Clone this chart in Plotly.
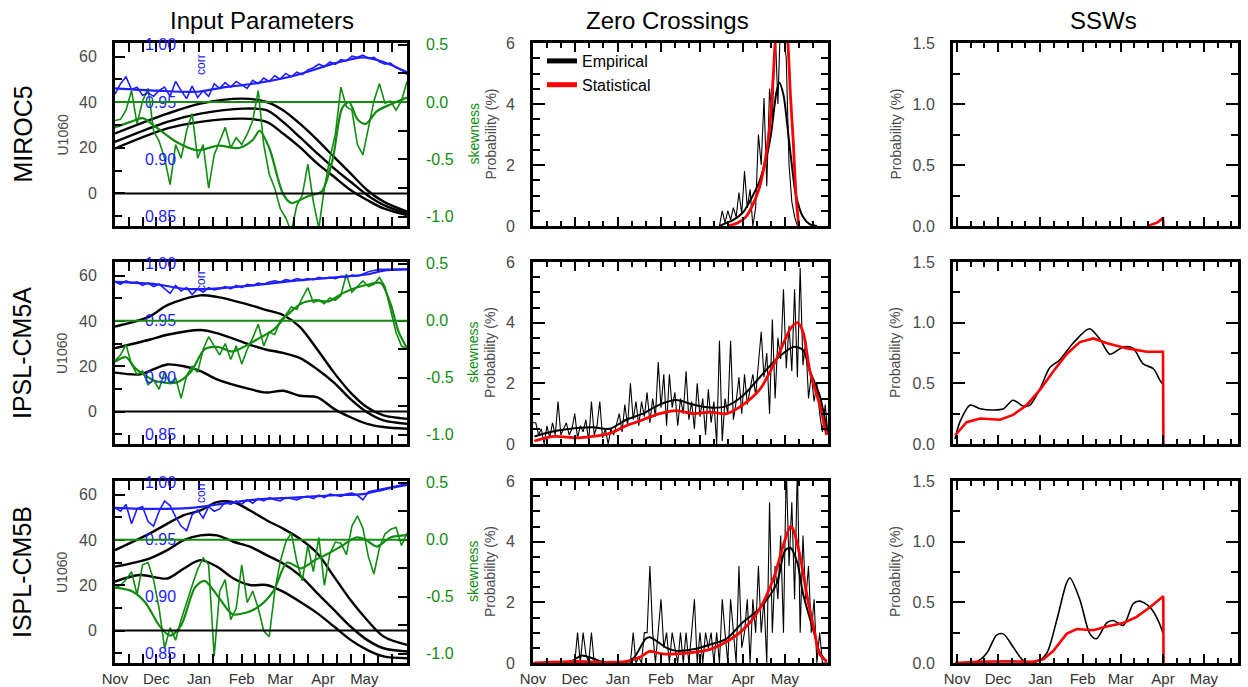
import plotly.graph_objects as go

W, H = 1248, 687
FONT = "Liberation Sans, Arial, Helvetica, sans-serif"
GREEN = "#118c11"
BLUE = "#1e1eff"
RED = "#ff0000"
GRAY = "#4a4a4a"

# ---------------- labels / ticks ----------------
MODELS = ["MIROC5", "IPSL-CM5A", "ISPL-CM5B"]
COLUMN_TITLES = ["Input Parameters", "Zero Crossings", "SSWs"]
MONTHS = ["Nov", "Dec", "Jan", "Feb", "Mar", "Apr", "May"]
MONTH_DAYS = [0, 30, 61, 92, 120, 151, 181]          # days since 1 Nov
MINOR_DAYS = [10, 20, 40, 50, 71, 81, 102, 112, 130, 140, 161, 171, 191, 201]
U_TICKS = [0, 20, 40, 60]
U_MINOR = [-10, 10, 30, 50]
SKEW_TICKS = [-1.0, -0.5, 0.0, 0.5]
SKEW_LABELS = ["-1.0", "-0.5", "0.0", "0.5"]
SKEW_MINOR = [-0.75, -0.25, 0.25]
CORR_TICKS = [0.85, 0.90, 0.95, 1.00]
CORR_LABELS = ["0.85", "0.90", "0.95", "1.00"]
ZC_TICKS = [0, 2, 4, 6]
SSW_TICKS = [0.0, 0.5, 1.0, 1.5]
SSW_LABELS = ["0.0", "0.5", "1.0", "1.5"]

DAYS4 = list(range(0, 213, 4))
DAYS2 = list(range(0, 213, 2))

# ---------------- Input parameters: U1060 (three curves per model) ----------------
u_days_miroc = [0, 38, 62, 93, 110, 122, 134, 147, 159, 171, 183, 195, 212]
u_miroc_upper = [26.3, 35, 39.4, 41.6, 40.1, 36.5, 30.7, 23.4, 16, 8.8, 1.5, -3.6, -8]
u_miroc_mid = [22.6, 31.4, 35, 37.2, 36.5, 31.4, 24.8, 17.5, 11, 5.1, -0.7, -5.1, -8.8]
u_miroc_lower = [19.7, 28.5, 31.4, 32.8, 31.4, 26.3, 20.4, 13.1, 7.3, 1.5, -2.9, -6.6, -9.5]

u_days_ipsla = [0, 25, 38, 62, 74, 98, 110, 122, 134, 147, 159, 171, 183, 195, 212]
u_ipsla_upper = [37.5, 41.9, 47, 51.3, 50.6, 47, 44.8, 42.6, 37.5, 27.3, 17.2, 8.4, 1.9, -1.7, -3.2]
u_ipsla_mid = [28, 31.7, 33.9, 36, 34.6, 29.5, 27.3, 25.9, 23.7, 18.6, 12.8, 5.5, -0.3, -3.9, -5.4]
u_days_ipsla_low = [0, 18, 25, 38, 50, 62, 74, 98, 110, 122, 134, 147, 159, 171, 183, 195, 212]
u_ipsla_lower = [17.2, 16.4, 17.9, 20.8, 20, 17.9, 14.2, 9.9, 8.4, 9.2, 7, 6.3, 1.2, -2.5, -5.4, -6.8, -7.6]

u_days_ipslb_up = [0, 25, 50, 62, 74, 86, 98, 110, 122, 134, 147, 159, 171, 183, 195, 212]
u_ipslb_upper = [35.5, 42.8, 50.9, 53, 56.7, 56.7, 53, 48.7, 45, 40.6, 34, 23.8, 13.5, 4.7, -2.6, -6.3]
u_days_ipslb_mid = [0, 25, 38, 50, 62, 74, 86, 98, 110, 122, 134, 147, 159, 171, 183, 195, 212]
u_ipslb_mid = [28.2, 31.8, 35.5, 39.9, 42, 42, 39.2, 37, 33.3, 29.6, 24.5, 16.4, 9.1, 1.8, -4.1, -7.8, -9.2]
u_days_ipslb_low = [0, 18, 38, 50, 62, 74, 86, 98, 110, 122, 134, 147, 159, 171, 183, 195, 212]
u_ipslb_lower = [21.6, 24.5, 23, 27.4, 31.1, 28.2, 23, 20.1, 20.1, 17.2, 12.8, 7.6, 1.8, -4.1, -8.5, -11.4, -12.2]

# ---------------- Input parameters: correlation (blue), every 4 days ----------------
corr_miroc = [0.957, 0.966, 0.972, 0.961, 0.963, 0.956, 0.958, 0.955, 0.960, 0.963,
              0.955, 0.968, 0.960, 0.953, 0.964, 0.954, 0.960, 0.955, 0.966, 0.962,
              0.967, 0.963, 0.968, 0.965, 0.962, 0.969, 0.966, 0.971, 0.968, 0.973,
              0.970, 0.975, 0.972, 0.976, 0.974, 0.978, 0.980, 0.983, 0.981, 0.985,
              0.983, 0.987, 0.986, 0.990, 0.989, 0.991, 0.988, 0.989, 0.985, 0.983,
              0.984, 0.980, 0.978, 0.974]
corr_ipsla = [0.984, 0.982, 0.985, 0.983, 0.984, 0.981, 0.983, 0.980, 0.982, 0.978,
              0.974, 0.981, 0.976, 0.979, 0.973, 0.978, 0.975, 0.979, 0.977, 0.978,
              0.980, 0.978, 0.981, 0.979, 0.982, 0.981, 0.983, 0.982, 0.984, 0.985,
              0.984, 0.986, 0.985, 0.987, 0.986, 0.987, 0.986, 0.988, 0.987, 0.988,
              0.987, 0.989, 0.988, 0.990, 0.989, 0.991, 0.993, 0.994, 0.995, 0.995,
              0.995, 0.995, 0.995, 0.995]
corr_ipslb = [0.978, 0.975, 0.981, 0.964, 0.977, 0.979, 0.966, 0.962, 0.975, 0.984,
              0.980, 0.970, 0.962, 0.958, 0.972, 0.976, 0.969, 0.979, 0.975, 0.977,
              0.983, 0.981, 0.984, 0.981, 0.985, 0.982, 0.986, 0.984, 0.987, 0.985,
              0.984, 0.987, 0.986, 0.985, 0.987, 0.988, 0.986, 0.989, 0.987, 0.990,
              0.989, 0.988, 0.990, 0.991, 0.989, 0.985, 0.992, 0.993, 0.994, 0.995,
              0.996, 0.997, 0.998, 0.999]
corr_smooth_days_miroc = [0, 30, 60, 80, 100, 130, 160, 180, 195, 212]
corr_smooth_miroc = [0.962, 0.960, 0.959, 0.963, 0.966, 0.973, 0.984, 0.989, 0.985, 0.976]
corr_smooth_days_ipsla = [0, 30, 50, 70, 100, 130, 160, 185, 195, 212]
corr_smooth_ipsla = [0.984, 0.982, 0.978, 0.978, 0.981, 0.985, 0.988, 0.991, 0.994, 0.995]
corr_smooth_days_ipslb = [0, 30, 55, 75, 100, 130, 160, 180, 195, 212]
corr_smooth_ipslb = [0.978, 0.977, 0.978, 0.981, 0.985, 0.987, 0.989, 0.990, 0.994, 0.998]

# ---------------- Input parameters: skewness (green), every 4 days ----------------
skew_miroc = [-0.16, -0.15, -0.07, 0.10, -0.19, 0.01, 0.12, -0.25, -0.34, -0.49,
              -0.72, -0.37, -0.49, -0.25, -0.10, -0.49, -0.37, -0.75, -0.46, -0.34,
              -0.22, -0.40, -0.31, -0.37, -0.28, -0.16, 0.10, -0.37, -0.63, -0.75,
              -0.93, -1.01, -1.13, -0.90, -0.81, -0.54, -0.87, -1.10, -0.75, -0.49,
              -0.28, 0.13, -0.04, -0.07, -0.37, -0.46, -0.22, 0.01, 0.16, -0.01,
              0.01, -0.07, 0.01, 0.18]
skew_ipsla = [-0.35, -0.30, -0.21, -0.38, -0.47, -0.44, -0.56, -0.52, -0.60, -0.45,
              -0.55, -0.50, -0.68, -0.48, -0.40, -0.45, -0.25, -0.14, -0.22, -0.30,
              -0.20, -0.34, -0.22, -0.38, -0.25, -0.15, -0.03, -0.22, -0.10, -0.12,
              0.00, 0.05, 0.12, 0.10, 0.20, 0.29, 0.16, 0.18, 0.15, 0.20,
              0.18, 0.22, 0.41, 0.25, 0.30, 0.35, 0.30, 0.32, 0.38, 0.30,
              0.10, -0.10, -0.22, -0.25]
skew_ipslb = [-0.42, -0.40, -0.35, -0.28, -0.48, -0.22, -0.20, -0.35, -0.60, -0.95,
              -0.77, -0.88, -0.70, -0.54, -0.40, -0.26, -0.16, -0.22, -1.02, -0.45,
              -0.35, -0.70, -0.60, -0.22, -0.55, -0.45, -0.60, -0.80, -0.85, -0.45,
              -0.19, -0.02, 0.06, -0.19, -0.36, -0.05, -0.28, 0.02, -0.40, -0.12,
              -0.02, -0.03, -0.13, 0.12, 0.21, 0.10, -0.15, -0.30, -0.07, 0.05,
              0.09, 0.11, -0.05, 0.06]
skew_smooth_days_miroc = [0, 12, 20, 30, 45, 60, 75, 90, 100, 105, 112, 122, 128, 140, 150, 158, 165, 170, 176, 182, 190, 200, 212]
skew_smooth_miroc = [-0.22, -0.17, -0.14, -0.22, -0.35, -0.42, -0.38, -0.40, -0.33, -0.25, -0.40, -0.80, -0.88, -0.82, -0.78, -0.50, -0.05, 0.00, -0.15, -0.19, -0.08, -0.02, 0.04]
skew_smooth_days_ipsla = [0, 8, 15, 30, 45, 55, 65, 75, 85, 95, 105, 115, 125, 135, 145, 155, 165, 175, 185, 193, 200, 206, 212]
skew_smooth_ipsla = [-0.36, -0.32, -0.42, -0.53, -0.54, -0.45, -0.25, -0.23, -0.27, -0.22, -0.15, -0.08, 0.05, 0.15, 0.18, 0.17, 0.24, 0.29, 0.32, 0.33, 0.15, -0.10, -0.24]
skew_smooth_days_ipslb = [0, 12, 22, 32, 40, 48, 58, 65, 75, 85, 95, 105, 115, 125, 135, 145, 155, 165, 175, 182, 190, 200, 212]
skew_smooth_ipslb = [-0.42, -0.45, -0.55, -0.75, -0.84, -0.75, -0.42, -0.36, -0.50, -0.65, -0.64, -0.58, -0.45, -0.20, -0.25, -0.18, -0.12, -0.05, 0.02, 0.00, -0.06, 0.02, 0.04]

# ---------------- Zero crossings: empirical (daily-ish) + smoothed + statistical ----------------
zc_emp_days_miroc = list(range(134, 192, 2))
zc_emp_miroc = [0.0, 0.5, 0.1, 0.5, 0.2, 0.6, 0.3, 1.1, 0.4, 1.8, 0.6, 1.2, 0.0, 0.6, 3.0,
                2.0, 4.2, 1.3, 4.5, 3.5, 6.5, 4.0, 7.0, 6.2, 5.5, 2.0, 0.8, 0.3, 0.0]
zc_emp_ipsla = [0.7, 0.7, 0.3, 0.5, 0.0, 0.6, 0.2, 0.7, 0.3, 1.4, 0.3, 0.5, 0.7, 0.3, 0.5, 1.0, 0.2, 0.6, 0.4, 0.8, 0.1,
                1.4, 0.3, 0.6, 1.4, 0.2, 0.5, 0.0, 0.5, 0.3, 0.7, 1.0, 0.4, 1.3, 0.6, 2.0, 0.8, 1.4, 0.6, 1.4, 0.9,
                1.7, 0.7, 1.5, 0.9, 2.7, 1.2, 2.3, 0.6, 2.3, 1.2, 1.7, 0.6, 1.5, 1.0, 2.4, 0.8, 1.4, 0.5, 2.0, 0.9,
                1.5, 0.3, 1.8, 0.7, 1.4, 0.0, 3.4, 0.1, 1.5, 1.0, 3.4, 0.8, 1.4, 2.2, 1.0, 2.3, 1.3, 1.8, 2.3, 1.6,
                2.8, 3.7, 2.2, 3.0, 1.0, 4.1, 1.5, 3.5, 2.8, 5.1, 2.5, 3.9, 2.4, 5.1, 2.2, 5.8, 2.6, 3.4, 1.5, 2.3,
                1.4, 2.0, 1.0, 0.4, 1.3, 0.3]
zc_emp_ipslb = [0, 0, 0, 0, 0, 0, 0, 0, 0, 0, 0, 0, 0, 0, 0, 0, 1.0, 0, 1.0, 0.3, 0,
                1.0, 0, 0, 0, 0, 0, 0, 0, 0, 0, 0, 0, 0, 0, 0, 1.0, 0, 0.2, 0, 1.0,
                1.0, 3.2, 1.0, 0, 1.0, 2.1, 0.5, 1.0, 0, 1.0, 0.5, 0, 1.0, 0, 1.0, 0, 1.0, 2.1, 0, 1.0,
                0, 1.0, 0.5, 1.0, 0, 1.0, 0, 2.1, 1.0, 0, 2.1, 1.0, 0, 3.2, 0.5, 1.0, 2.1, 0, 2.1, 1.0,
                3.2, 1.0, 2.1, 0, 5.3, 1.0, 3.2, 2.1, 4.2, 1.0, 6.5, 3.2, 5.3, 2.1, 6.5, 1.0, 4.2, 2.1, 3.2, 1.0,
                2.1, 0, 1.0, 0, 0, 0]

zc_smooth_days_miroc = [134, 139, 144, 151, 158, 163, 168, 171, 175, 177, 180, 183, 186, 189, 194, 199, 204]
zc_smooth_miroc = [0, 0.1, 0.2, 0.45, 1.0, 1.5, 2.3, 3.0, 4.4, 4.7, 4.3, 3.2, 2.0, 1.0, 0.3, 0.05, 0]
zc_stat_days_miroc = [140, 147, 153, 158, 163, 167, 170, 172, 174, 177, 180, 183, 185, 187, 189, 191]
zc_stat_miroc = [0, 0.1, 0.3, 0.7, 1.3, 2.2, 3.2, 4.4, 6.0, 8.0, 8.0, 6.2, 4.3, 2.8, 1.0, 0]

zc_smooth_days_ipsla = [1, 19, 43, 55, 67, 79, 91, 103, 115, 127, 139, 151, 163, 175, 187, 194, 199, 206, 211]
zc_smooth_ipsla = [0.25, 0.45, 0.55, 0.5, 0.8, 1.0, 1.3, 1.45, 1.3, 1.2, 1.25, 1.6, 2.2, 2.8, 3.2, 3.1, 2.4, 1.6, 0.5]
zc_stat_days_ipsla = [1, 15, 31, 43, 55, 67, 79, 91, 103, 115, 127, 139, 151, 163, 175, 185, 190, 194, 199, 206, 211]
zc_stat_ipsla = [0.1, 0.25, 0.2, 0.25, 0.35, 0.6, 0.8, 1.0, 1.1, 1.0, 1.05, 1.0, 1.3, 1.8, 2.8, 3.8, 4.0, 3.7, 2.4, 1.3, 0.3]

zc_smooth_days_ipslb = [1, 27, 35, 43, 51, 63, 72, 81, 84, 96, 103, 115, 127, 139, 151, 163, 175, 181, 185, 190, 194, 202, 206, 211]
zc_smooth_ipslb = [0, 0.05, 0.25, 0.15, 0.02, 0, 0.15, 0.8, 0.85, 0.5, 0.4, 0.45, 0.6, 0.8, 1.35, 1.8, 2.6, 3.7, 3.8, 3.3, 2.3, 1.0, 0.35, 0.05]
zc_stat_days_ipslb = [1, 34, 51, 67, 77, 84, 93, 103, 115, 127, 139, 151, 163, 173, 180, 185, 187, 192, 197, 202, 206, 211]
zc_stat_ipslb = [0, 0.05, 0.02, 0.05, 0.2, 0.38, 0.3, 0.3, 0.35, 0.45, 0.7, 1.1, 1.8, 2.8, 3.9, 4.5, 4.4, 3.5, 2.2, 1.1, 0.3, 0.05]

# ---------------- SSWs ----------------
ssw_stat_days_miroc = [140, 147, 151, 151.3]
ssw_stat_miroc = [0, 0.03, 0.065, 0]

ssw_emp_days_ipsla = [-1.5, 2, 9.5, 17, 27, 34, 41, 49, 53.5, 61, 68, 75, 85, 97, 105, 112, 122, 129, 136.5, 144, 149, 151]
ssw_emp_ipsla = [0.04, 0.18, 0.32, 0.29, 0.28, 0.29, 0.36, 0.31, 0.32, 0.46, 0.63, 0.69, 0.83, 0.95, 0.86, 0.74, 0.80, 0.79, 0.66, 0.62, 0.52, 0.49]
ssw_stat_days_ipsla = [-1.5, 7, 17, 31.5, 41, 51, 61, 70.6, 80.3, 90, 100, 110, 124, 139, 151, 151.3]
ssw_stat_ipsla = [0.07, 0.18, 0.21, 0.20, 0.24, 0.32, 0.45, 0.60, 0.74, 0.84, 0.87, 0.83, 0.79, 0.76, 0.76, 0]

ssw_emp_days_ipslb = [-1.5, 14.3, 21.7, 29, 33.9, 41.2, 48.6, 58.3, 65.7, 73, 80.3, 82.8, 90.1, 97.4, 102.3, 109.7, 114.5, 121.9, 129.2, 134.1, 141.4, 147.5, 151.2]
ssw_emp_ipslb = [0, 0.01, 0.08, 0.23, 0.24, 0.13, 0.02, 0.01, 0.08, 0.35, 0.66, 0.70, 0.52, 0.24, 0.20, 0.33, 0.35, 0.31, 0.49, 0.51, 0.46, 0.35, 0.24]
ssw_stat_days_ipslb = [-1.5, 14.3, 38.8, 55.9, 63.2, 70.6, 80.3, 87.7, 99.9, 109.7, 121.9, 131.7, 141.4, 151.2, 151.4]
ssw_stat_ipslb = [0, 0.01, 0.014, 0.01, 0.03, 0.10, 0.24, 0.28, 0.27, 0.30, 0.33, 0.38, 0.46, 0.55, 0]

# ---------------- layout geometry (pixels) ----------------
COLS_PX = [(115, 407), (533, 828), (953, 1238)]
ROWS_PX = [(43, 226), (262, 444), (481, 663)]
U_RANGE = [-14.3, 66.0]
SKEW_RANGE = [-1.08, 0.515]
CORR_RANGE = [0.95 + 0.1 * SKEW_RANGE[0], 0.95 + 0.1 * SKEW_RANGE[1]]
X_RANGE = [0, 212]
X_RANGE_SSW = [-3, 206]


def xd(a, b):
    return [a / W, b / W]


def yd(top, bot):
    return [1 - bot / H, 1 - top / H]


def aname(kind, n):
    return f"{kind}axis" if n == 1 else f"{kind}axis{n}"


def aref(kind, n):
    return kind if n == 1 else f"{kind}{n}"


TICKFONT = dict(family=FONT, size=16, color=GRAY)


def x_cfg(dom, anchor, show, rng):
    return dict(domain=dom, anchor=anchor, range=rng, showgrid=False, zeroline=False, automargin=False,
                showline=True, linecolor="black", linewidth=3, mirror="allticks",
                ticks="inside", ticklen=9, tickwidth=2, tickcolor="black",
                tickvals=MONTH_DAYS, ticktext=MONTHS, showticklabels=show,
                tickfont=dict(family=FONT, size=15, color="#333333"), ticklabelstandoff=0,
                minor=dict(tickvals=MINOR_DAYS, ticklen=5, tickwidth=2, tickcolor="black", ticks="inside"))


fig = go.Figure()
layout = dict(template="none", width=W, height=H, margin=dict(l=0, r=0, t=0, b=0, autoexpand=False),
              paper_bgcolor="white", plot_bgcolor="rgba(0,0,0,0)",
              font=dict(family=FONT), showlegend=True)
shapes = []
annotations = []

left_data = [
    dict(u=[(u_days_miroc, u_miroc_upper), (u_days_miroc, u_miroc_mid), (u_days_miroc, u_miroc_lower)],
         corr=corr_miroc, corr_s=(corr_smooth_days_miroc, corr_smooth_miroc),
         skew=skew_miroc, skew_s=(skew_smooth_days_miroc, skew_smooth_miroc)),
    dict(u=[(u_days_ipsla, u_ipsla_upper), (u_days_ipsla, u_ipsla_mid), (u_days_ipsla_low, u_ipsla_lower)],
         corr=corr_ipsla, corr_s=(corr_smooth_days_ipsla, corr_smooth_ipsla),
         skew=skew_ipsla, skew_s=(skew_smooth_days_ipsla, skew_smooth_ipsla)),
    dict(u=[(u_days_ipslb_up, u_ipslb_upper), (u_days_ipslb_mid, u_ipslb_mid), (u_days_ipslb_low, u_ipslb_lower)],
         corr=corr_ipslb, corr_s=(corr_smooth_days_ipslb, corr_smooth_ipslb),
         skew=skew_ipslb, skew_s=(skew_smooth_days_ipslb, skew_smooth_ipslb)),
]
zc_data = [
    dict(emp=(zc_emp_days_miroc, zc_emp_miroc), sm=(zc_smooth_days_miroc, zc_smooth_miroc), st=(zc_stat_days_miroc, zc_stat_miroc)),
    dict(emp=(DAYS2, zc_emp_ipsla), sm=(zc_smooth_days_ipsla, zc_smooth_ipsla), st=(zc_stat_days_ipsla, zc_stat_ipsla)),
    dict(emp=(DAYS2, zc_emp_ipslb), sm=(zc_smooth_days_ipslb, zc_smooth_ipslb), st=(zc_stat_days_ipslb, zc_stat_ipslb)),
]
ssw_data = [
    dict(emp=None, st=(ssw_stat_days_miroc, ssw_stat_miroc)),
    dict(emp=(ssw_emp_days_ipsla, ssw_emp_ipsla), st=(ssw_stat_days_ipsla, ssw_stat_ipsla)),
    dict(emp=(ssw_emp_days_ipslb, ssw_emp_ipslb), st=(ssw_stat_days_ipslb, ssw_stat_ipslb)),
]

for r in range(3):
    top, bot = ROWS_PX[r]
    ydom = yd(top, bot)
    bottom_row = (r == 2)
    xl, xm, xr = 3 * r + 1, 3 * r + 2, 3 * r + 3
    yu, ys, yc, ym, yr = 5 * r + 1, 5 * r + 2, 5 * r + 3, 5 * r + 4, 5 * r + 5

    # ---------- axes ----------
    layout[aname("x", xl)] = x_cfg(xd(*COLS_PX[0]), aref("y", yu), bottom_row, X_RANGE)
    layout[aname("x", xm)] = x_cfg(xd(*COLS_PX[1]), aref("y", ym), bottom_row, X_RANGE)
    layout[aname("x", xr)] = x_cfg(xd(*COLS_PX[2]), aref("y", yr), bottom_row, X_RANGE_SSW)

    layout[aname("y", yu)] = dict(domain=ydom, anchor=aref("x", xl), range=U_RANGE, automargin=False,
                                  showgrid=False, zeroline=False, showline=True, linecolor="black",
                                  linewidth=3, mirror=True, ticks="inside", ticklen=10, tickwidth=2,
                                  tickcolor="black", tickvals=U_TICKS, tickfont=TICKFONT,
                                  ticklabelstandoff=12,
                                  minor=dict(tickvals=U_MINOR, ticklen=7, tickwidth=2, tickcolor="black", ticks="inside"))
    layout[aname("y", ys)] = dict(overlaying=aref("y", yu), anchor=aref("x", xl), side="right", automargin=False,
                                  range=SKEW_RANGE, showgrid=False, zeroline=False, showline=False,
                                  ticks="inside", ticklen=9, tickwidth=2, tickcolor="black",
                                  tickvals=SKEW_TICKS, ticktext=SKEW_LABELS,
                                  tickfont=dict(family=FONT, size=16, color=GREEN), ticklabelstandoff=18,
                                  minor=dict(tickvals=SKEW_MINOR, ticklen=9, tickwidth=2, tickcolor="black", ticks="inside"))
    layout[aname("y", yc)] = dict(overlaying=aref("y", yu), anchor="free", position=144 / W, side="right",
                                  range=CORR_RANGE, showgrid=False, zeroline=False, showline=False, automargin=False,
                                  ticks="", tickvals=CORR_TICKS, ticktext=CORR_LABELS,
                                  tickfont=dict(family=FONT, size=16, color=BLUE))
    layout[aname("y", ym)] = dict(domain=ydom, anchor=aref("x", xm), range=[0, 6], automargin=False,
                                  showgrid=False, zeroline=False, showline=True, linecolor="black",
                                  linewidth=3, mirror="allticks", ticks="inside", ticklen=12, tickwidth=2,
                                  tickcolor="black", tickvals=ZC_TICKS, tickfont=TICKFONT, ticklabelstandoff=12,
                                  minor=dict(dtick=0.5, ticklen=7, tickwidth=2, tickcolor="black", ticks="inside"))
    layout[aname("y", yr)] = dict(domain=ydom, anchor=aref("x", xr), range=[0, 1.5], automargin=False,
                                  showgrid=False, zeroline=False, showline=True, linecolor="black",
                                  linewidth=3, mirror="allticks", ticks="inside", ticklen=12, tickwidth=2,
                                  tickcolor="black", tickvals=SSW_TICKS, ticktext=SSW_LABELS,
                                  tickfont=TICKFONT, ticklabelstandoff=12,
                                  minor=dict(dtick=0.25, ticklen=7, tickwidth=2, tickcolor="black", ticks="inside"))

    # ---------- reference lines ----------
    shapes.append(dict(type="line", xref=f"{aref('x', xl)} domain", x0=0, x1=1,
                       yref=aref("y", yu), y0=0, y1=0, line=dict(color="black", width=2)))
    shapes.append(dict(type="line", xref=f"{aref('x', xl)} domain", x0=0, x1=1,
                       yref=aref("y", ys), y0=0, y1=0, line=dict(color=GREEN, width=2)))

    # ---------- left panel traces ----------
    d = left_data[r]
    for dx, dy in d["u"]:
        fig.add_trace(go.Scatter(x=dx, y=dy, mode="lines", line=dict(color="black", width=2.4, shape="spline", smoothing=0.9),
                                 xaxis=aref("x", xl), yaxis=aref("y", yu), showlegend=False, hoverinfo="skip"))
    fig.add_trace(go.Scatter(x=DAYS4, y=d["skew"], mode="lines", line=dict(color=GREEN, width=1.6),
                             xaxis=aref("x", xl), yaxis=aref("y", ys), showlegend=False, hoverinfo="skip"))
    fig.add_trace(go.Scatter(x=d["skew_s"][0], y=d["skew_s"][1], mode="lines",
                             line=dict(color=GREEN, width=2.2, shape="spline", smoothing=0.8),
                             xaxis=aref("x", xl), yaxis=aref("y", ys), showlegend=False, hoverinfo="skip"))
    fig.add_trace(go.Scatter(x=DAYS4, y=d["corr"], mode="lines", line=dict(color=BLUE, width=1.6),
                             xaxis=aref("x", xl), yaxis=aref("y", yc), showlegend=False, hoverinfo="skip"))
    fig.add_trace(go.Scatter(x=d["corr_s"][0], y=d["corr_s"][1], mode="lines",
                             line=dict(color=BLUE, width=2.2, shape="spline", smoothing=0.8),
                             xaxis=aref("x", xl), yaxis=aref("y", yc), showlegend=False, hoverinfo="skip"))

    # ---------- zero crossings ----------
    z = zc_data[r]
    fig.add_trace(go.Scatter(x=z["emp"][0], y=z["emp"][1], mode="lines", line=dict(color="black", width=1.1),
                             xaxis=aref("x", xm), yaxis=aref("y", ym), showlegend=False, hoverinfo="skip"))
    fig.add_trace(go.Scatter(x=z["sm"][0], y=z["sm"][1], mode="lines",
                             line=dict(color="black", width=2, shape="spline", smoothing=0.8),
                             xaxis=aref("x", xm), yaxis=aref("y", ym), showlegend=False, hoverinfo="skip"))
    fig.add_trace(go.Scatter(x=z["st"][0], y=z["st"][1], mode="lines",
                             line=dict(color=RED, width=2.8, shape="spline", smoothing=0.8),
                             xaxis=aref("x", xm), yaxis=aref("y", ym), showlegend=False, hoverinfo="skip"))

    # ---------- SSWs ----------
    s = ssw_data[r]
    if s["emp"] is not None:
        fig.add_trace(go.Scatter(x=s["emp"][0], y=s["emp"][1], mode="lines",
                                 line=dict(color="black", width=1.6, shape="spline", smoothing=0.8),
                                 xaxis=aref("x", xr), yaxis=aref("y", yr), showlegend=False, hoverinfo="skip"))
    fig.add_trace(go.Scatter(x=s["st"][0], y=s["st"][1], mode="lines",
                             line=dict(color=RED, width=2.6),
                             xaxis=aref("x", xr), yaxis=aref("y", yr), showlegend=False, hoverinfo="skip"))

    # ---------- texts ----------
    cy = (top + bot) / 2
    annotations.append(dict(text=MODELS[r], x=22 / W, y=1 - cy / H, xref="paper", yref="paper",
                            textangle=-90, showarrow=False, xanchor="center", yanchor="middle",
                            font=dict(family=FONT, size=25, color="black")))
    annotations.append(dict(text="U1060", x=62 / W, y=1 - cy / H, xref="paper", yref="paper",
                            textangle=-90, showarrow=False, xanchor="center", yanchor="middle",
                            font=dict(family=FONT, size=14, color=GRAY)))
    annotations.append(dict(text="skewness", x=473 / W, y=1 - cy / H, xref="paper", yref="paper",
                            textangle=-90, showarrow=False, xanchor="center", yanchor="middle",
                            font=dict(family=FONT, size=14, color=GREEN)))
    annotations.append(dict(text="Probability (%)", x=490 / W, y=1 - cy / H, xref="paper", yref="paper",
                            textangle=-90, showarrow=False, xanchor="center", yanchor="middle",
                            font=dict(family=FONT, size=14, color=GRAY)))
    annotations.append(dict(text="Probability (%)", x=895 / W, y=1 - cy / H, xref="paper", yref="paper",
                            textangle=-90, showarrow=False, xanchor="center", yanchor="middle",
                            font=dict(family=FONT, size=14, color=GRAY)))
    annotations.append(dict(text="corr", x=201 / W, y=1 - (top + [22, 19, 12][r]) / H, xref="paper", yref="paper",
                            textangle=-90, showarrow=False, xanchor="center", yanchor="middle",
                            font=dict(family=FONT, size=12, color=BLUE)))

for title, cx in zip(COLUMN_TITLES, [262, 667, 1103]):
    annotations.append(dict(text=title, x=cx / W, y=1 - 20 / H, xref="paper", yref="paper",
                            showarrow=False, xanchor="center", yanchor="middle",
                            font=dict(family=FONT, size=24, color="black")))

# legend entries (top zero-crossing panel)
fig.add_trace(go.Scatter(x=[None], y=[None], mode="lines", name="Empirical",
                         line=dict(color="black", width=5), xaxis="x2", yaxis="y4", showlegend=True))
fig.add_trace(go.Scatter(x=[None], y=[None], mode="lines", name="Statistical",
                         line=dict(color=RED, width=5), xaxis="x2", yaxis="y4", showlegend=True))

layout["legend"] = dict(x=542 / W, y=1 - 44 / H, xanchor="left", yanchor="top",
                        bgcolor="rgba(0,0,0,0)", borderwidth=0, tracegroupgap=0,
                        font=dict(family=FONT, size=16, color="black"))
layout["shapes"] = shapes
layout["annotations"] = annotations
fig.update_layout(**layout)

fig.write_html("out.html")
